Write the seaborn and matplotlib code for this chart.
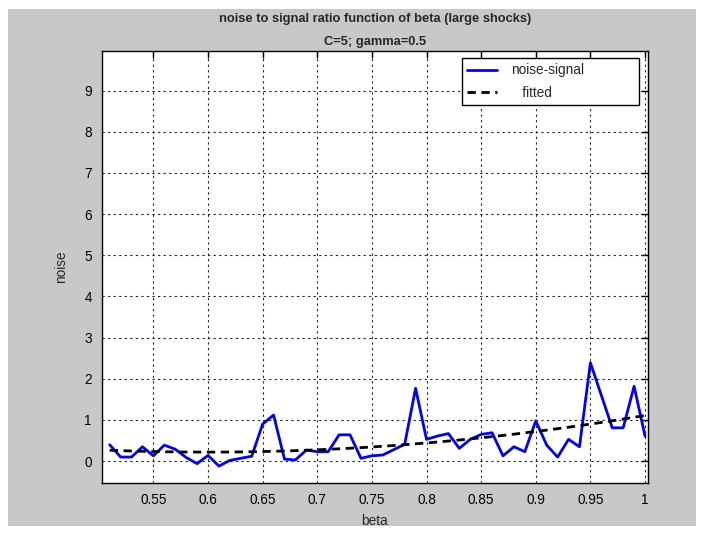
import matplotlib
matplotlib.use("Agg")
import matplotlib.pyplot as plt
import seaborn as sns
import pandas as pd
from matplotlib.patches import Rectangle

beta = [0.51, 0.52, 0.53, 0.54, 0.55, 0.56, 0.57, 0.58, 0.59, 0.60,
        0.61, 0.62, 0.63, 0.64, 0.65, 0.66, 0.67, 0.68, 0.69, 0.70,
        0.71, 0.72, 0.73, 0.74, 0.75, 0.76, 0.77, 0.78, 0.79, 0.80,
        0.81, 0.82, 0.83, 0.84, 0.85, 0.86, 0.87, 0.88, 0.89, 0.90,
        0.91, 0.92, 0.93, 0.94, 0.95, 0.96, 0.97, 0.98, 0.99, 1.00]
noise_signal = [0.40, 0.10, 0.10, 0.35, 0.13, 0.39, 0.29, 0.09, -0.06, 0.14,
                -0.12, 0.02, 0.07, 0.12, 0.90, 1.12, 0.05, 0.03, 0.27, 0.23,
                0.23, 0.64, 0.64, 0.07, 0.13, 0.15, 0.28, 0.41, 1.77, 0.53,
                0.61, 0.67, 0.31, 0.53, 0.65, 0.69, 0.13, 0.35, 0.23, 0.98,
                0.39, 0.10, 0.53, 0.35, 2.39, 1.60, 0.81, 0.81, 1.82, 0.61]
fitted = [0.265, 0.256, 0.247, 0.240, 0.234, 0.229, 0.225, 0.222, 0.221, 0.220,
          0.221, 0.222, 0.225, 0.229, 0.234, 0.240, 0.247, 0.256, 0.265, 0.276,
          0.287, 0.300, 0.314, 0.329, 0.345, 0.362, 0.381, 0.400, 0.421, 0.442,
          0.465, 0.489, 0.514, 0.540, 0.568, 0.596, 0.625, 0.656, 0.688, 0.720,
          0.754, 0.789, 0.825, 0.863, 0.901, 0.941, 0.981, 1.023, 1.066, 1.110]
x_ticks = [0.55, 0.6, 0.65, 0.7, 0.75, 0.8, 0.85, 0.9, 0.95, 1.0]
x_tick_labels = ["0.55", "0.6", "0.65", "0.7", "0.75", "0.8", "0.85", "0.9", "0.95", "1"]
y_ticks = [0, 1, 2, 3, 4, 5, 6, 7, 8, 9]

sns.set_style("white")
plt.rcParams['font.family'] = ['Liberation Sans', 'DejaVu Sans']

W, H = 704, 534
fig = plt.figure(figsize=(W / 100, H / 100), dpi=100, facecolor='white')
bg = Rectangle((8 / W, 8 / H), (W - 16) / W, (H - 17) / H,
               transform=fig.transFigure, facecolor='#c8c8c8',
               edgecolor='none', zorder=-10)
fig.patches.append(bg)

left, right, top, bottom = 101.7, 648.3, 51, 483
ax = fig.add_axes([left / W, 1 - bottom / H, (right - left) / W, (bottom - top) / H])
ax.set_zorder(5)
ax.set_facecolor('white')

df = pd.DataFrame({'beta': beta, 'noise': noise_signal, 'fitted': fitted})
sns.lineplot(data=df, x='beta', y='noise', ax=ax, color='#0000ff', lw=2.0,
             label='noise-signal')
sns.lineplot(data=df, x='beta', y='fitted', ax=ax, color='black', lw=2.0,
             label='   fitted')
ax.lines[1].set_dashes((3, 2))

ax.set_xlim(0.5027, 1.003)
ax.set_ylim(-0.53, 9.96)
ax.set_xticks(x_ticks)
ax.set_xticklabels(x_tick_labels)
ax.set_yticks(y_ticks)
ax.grid(True, color='#222222', linestyle=(0, (2, 3)), linewidth=0.8)
ax.tick_params(direction='in', length=5, width=1, top=True, right=True,
               labelsize=9.8, colors='black', pad=7)
for s in ax.spines.values():
    s.set_color('black')
    s.set_linewidth(1)
    s.set_visible(True)

ax.set_xlabel('beta', fontsize=9.8, labelpad=5)
ax.set_ylabel('noise', fontsize=9.8, labelpad=12)

fig.text(375 / W, 1 - 19 / H, 'noise to signal ratio function of beta (large shocks)',
         ha='center', va='center', fontsize=9.3, fontweight='bold')
fig.text(375 / W, 1 - 42 / H, 'C=5; gamma=0.5',
         ha='center', va='center', fontsize=9.3, fontweight='bold')

leg = ax.legend(loc='upper left', bbox_to_anchor=(0.659, 0.875, 0.3246, 0.109),
                mode='expand', borderaxespad=0, fontsize=9.8, frameon=True,
                fancybox=False, handlelength=2.2, borderpad=0.4,
                labelspacing=0.6, handletextpad=1.0)
leg.get_frame().set_edgecolor('black')
leg.get_frame().set_linewidth(1)
leg.get_frame().set_facecolor('white')
leg.get_frame().set_alpha(1)

fig.savefig('out.png', dpi=100, facecolor=fig.get_facecolor())
